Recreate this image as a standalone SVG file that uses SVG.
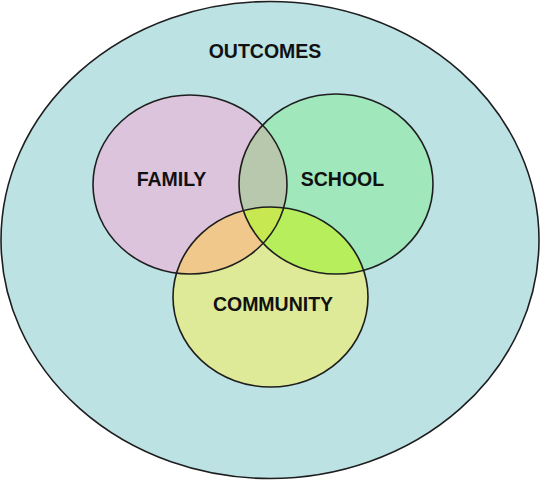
<svg xmlns="http://www.w3.org/2000/svg" width="541" height="480" viewBox="0 0 541 480">
<style>
.lbl{font-family:"Liberation Sans",Arial,sans-serif;font-weight:bold;font-size:19.5px;fill:#111;text-anchor:middle}
.ring{fill:none;stroke:#1e1e1e;stroke-width:1.6}
</style>
<defs>
<ellipse id="eF" cx="190" cy="184.5" rx="97" ry="89.5"/>
<ellipse id="eS" cx="336" cy="184" rx="97" ry="90"/>
<ellipse id="eC" cx="270.5" cy="297" rx="97.5" ry="90"/>
<clipPath id="cF"><use href="#eF"/></clipPath>
<clipPath id="cS"><use href="#eS"/></clipPath>
<clipPath id="cC"><use href="#eC"/></clipPath>
</defs>
<rect width="541" height="480" fill="#ffffff"/>
<g id="outcomes">
<ellipse cx="270" cy="240" rx="269" ry="238.5" fill="#bce2e4" stroke="#1e1e1e" stroke-width="1.6"/>
<text class="lbl" x="265" y="58">OUTCOMES</text>
</g>
<g id="family">
<use href="#eF" fill="#dcc4dc"/>
</g>
<g id="school">
<use href="#eS" fill="#a0e8bc"/>
</g>
<g id="community">
<use href="#eC" fill="#deea98"/>
</g>
<g id="overlaps">
<g clip-path="url(#cF)"><use href="#eS" fill="#b8c8ac"/></g>
<g clip-path="url(#cF)"><use href="#eC" fill="#f0c88c"/></g>
<g clip-path="url(#cS)"><use href="#eC" fill="#b6ee5c"/></g>
<g clip-path="url(#cF)"><g clip-path="url(#cS)"><use href="#eC" fill="#c8e852"/></g></g>
</g>
<g id="outlines">
<use href="#eF" class="ring"/>
<use href="#eS" class="ring"/>
<use href="#eC" class="ring"/>
</g>
<g id="labels">
<text class="lbl" x="171.5" y="186">FAMILY</text>
<text class="lbl" x="342.5" y="186">SCHOOL</text>
<text class="lbl" x="273" y="310.5">COMMUNITY</text>
</g>
</svg>
